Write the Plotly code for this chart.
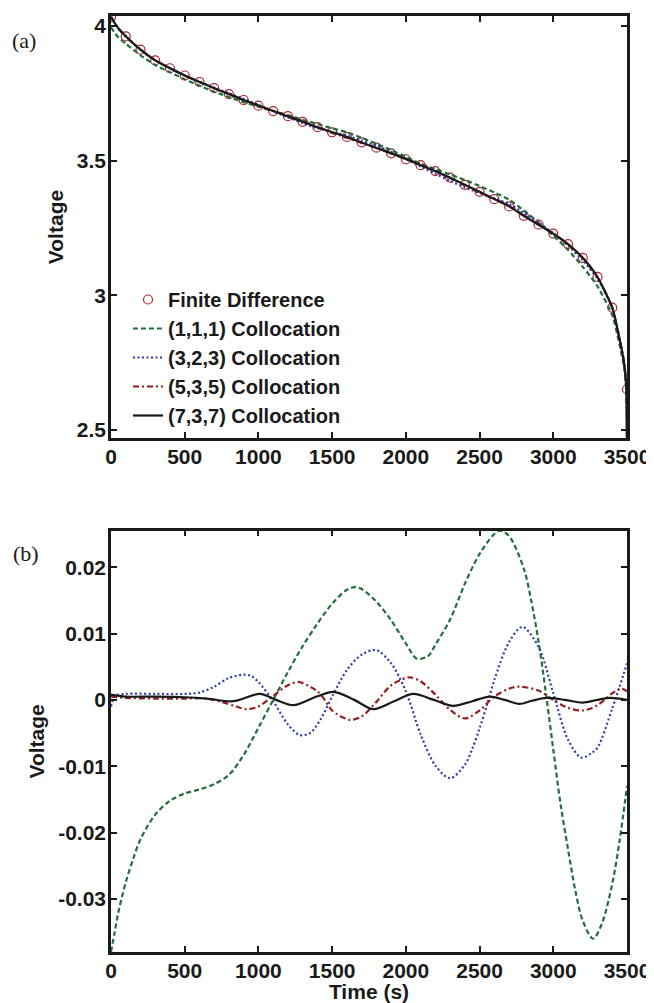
import plotly.graph_objects as go

# ---------------- data: panel (a) ----------------
t_fd = [0, 100, 200, 300, 400, 500, 600, 700, 800, 900, 1000, 1100, 1200, 1300, 1400,
        1500, 1600, 1700, 1800, 1900, 2000, 2100, 2200, 2300, 2400, 2500, 2600, 2700,
        2800, 2900, 3000, 3100, 3200, 3300, 3400, 3500]
v_fd = [4.033, 3.961, 3.912, 3.872, 3.843, 3.816, 3.792, 3.769, 3.747, 3.725, 3.704,
        3.684, 3.665, 3.644, 3.624, 3.605, 3.588, 3.568, 3.548, 3.527, 3.505, 3.483,
        3.461, 3.437, 3.410, 3.384, 3.357, 3.330, 3.295, 3.262, 3.229, 3.190, 3.139,
        3.068, 2.954, 2.651]

t_col = [0, 25, 50, 100, 200, 300, 400, 500, 600, 700, 800, 900, 1000, 1100, 1200, 1300,
         1400, 1500, 1600, 1700, 1800, 1900, 2000, 2100, 2200, 2300, 2400, 2500, 2600,
         2700, 2800, 2900, 3000, 3100, 3200, 3300, 3400, 3450, 3480, 3495, 3500]
v_c111 = [3.995, 3.975, 3.958, 3.934, 3.891, 3.855, 3.828, 3.802, 3.778, 3.756, 3.736,
          3.717, 3.700, 3.684, 3.669, 3.652, 3.636, 3.620, 3.605, 3.585, 3.563, 3.539,
          3.514, 3.489, 3.469, 3.449, 3.428, 3.406, 3.382, 3.355, 3.315, 3.271, 3.222,
          3.168, 3.106, 3.033, 2.926, 2.815, 2.734, 2.647, 2.44]
v_c323 = [4.032, 4.011, 3.991, 3.962, 3.913, 3.873, 3.844, 3.817, 3.793, 3.771, 3.750,
          3.729, 3.707, 3.684, 3.661, 3.639, 3.620, 3.606, 3.593, 3.575, 3.556, 3.533,
          3.506, 3.478, 3.451, 3.425, 3.400, 3.380, 3.360, 3.339, 3.306, 3.270, 3.230,
          3.184, 3.130, 3.061, 2.953, 2.836, 2.752, 2.668, 2.44]
v_c535 = [4.034, 4.011, 3.991, 3.961, 3.912, 3.872, 3.843, 3.816, 3.792, 3.769, 3.747,
          3.724, 3.703, 3.685, 3.667, 3.647, 3.625, 3.603, 3.585, 3.565, 3.548, 3.529,
          3.508, 3.486, 3.462, 3.436, 3.407, 3.382, 3.358, 3.332, 3.297, 3.263, 3.229,
          3.189, 3.137, 3.067, 2.955, 2.837, 2.751, 2.660, 2.44]
v_c737 = [4.034, 4.011, 3.991, 3.962, 3.912, 3.872, 3.843, 3.816, 3.792, 3.769, 3.747,
          3.725, 3.705, 3.684, 3.664, 3.644, 3.624, 3.606, 3.588, 3.567, 3.547, 3.527,
          3.506, 3.483, 3.461, 3.436, 3.410, 3.384, 3.357, 3.330, 3.295, 3.262, 3.229,
          3.190, 3.139, 3.068, 2.954, 2.836, 2.750, 2.660, 2.44]

# ---------------- data: panel (b) (errors) ----------------
t_e111 = [0, 25, 50, 100, 150, 200, 300, 400, 500, 600, 700, 800, 900, 1000, 1100, 1200,
          1300, 1400, 1500, 1600, 1650, 1700, 1800, 1900, 2000, 2075, 2150, 2200, 2300,
          2400, 2500, 2600, 2640, 2700, 2800, 2850, 2900, 2950, 3000, 3050, 3100, 3150,
          3200, 3270, 3330, 3400, 3450, 3500]
e111 = [-0.0380, -0.0350, -0.0320, -0.0275, -0.0240, -0.0210, -0.0173, -0.0152, -0.0141,
        -0.0135, -0.0127, -0.0113, -0.0083, -0.0042, 0.0000, 0.0042, 0.0081, 0.0115,
        0.0145, 0.0166, 0.0170, 0.0167, 0.0148, 0.0120, 0.0085, 0.0062, 0.0066, 0.0083,
        0.0121, 0.0175, 0.0220, 0.0250, 0.0255, 0.0247, 0.0198, 0.0150, 0.0088, 0.0010,
        -0.0075, -0.0158, -0.0225, -0.0288, -0.0333, -0.0360, -0.0337, -0.0277, -0.0212,
        -0.0130]

t_e323 = [0, 30, 100, 300, 500, 600, 700, 800, 900, 950, 1000, 1100, 1200, 1280, 1350,
          1420, 1500, 1600, 1700, 1800, 1900, 2000, 2100, 2200, 2300, 2400, 2450, 2500,
          2550, 2600, 2700, 2790, 2900, 3000, 3100, 3190, 3260, 3300, 3400, 3500]
e323 = [-0.0010, 0.0006, 0.0009, 0.0009, 0.0009, 0.0011, 0.0020, 0.0033, 0.0038, 0.0036,
        0.0027, -0.0002, -0.0037, -0.0053, -0.0050, -0.0030, 0.0005, 0.0045, 0.0068,
        0.0075, 0.0055, 0.0013, -0.0052, -0.0099, -0.0118, -0.0098, -0.0074, -0.0043,
        -0.0008, 0.0030, 0.0087, 0.0110, 0.0080, 0.0010, -0.0060, -0.0087, -0.0080,
        -0.0072, -0.0013, 0.0055]

t_e535 = [0, 100, 300, 500, 650, 750, 850, 920, 1000, 1100, 1200, 1270, 1350, 1400, 1450,
          1500, 1620, 1700, 1800, 1900, 2000, 2030, 2100, 2200, 2300, 2400, 2500, 2600,
          2700, 2770, 2900, 3000, 3100, 3200, 3300, 3400, 3460, 3500]
e535 = [0.0005, 0.0003, 0.0002, 0.0002, 0.0002, -0.0003, -0.0010, -0.0014, -0.0010,
        0.0006, 0.0022, 0.0027, 0.0020, 0.0013, 0.0000, -0.0016, -0.0030, -0.0025,
        -0.0003, 0.0022, 0.0033, 0.0034, 0.0028, 0.0008, -0.0015, -0.0028, -0.0016,
        0.0005, 0.0017, 0.0020, 0.0014, 0.0000, -0.0012, -0.0016, -0.0008, 0.0010,
        0.0017, 0.0013]

t_e737 = [0, 100, 300, 500, 650, 830, 1010, 1120, 1237, 1395, 1510, 1650, 1780, 1920,
          2050, 2190, 2320, 2450, 2570, 2670, 2770, 2860, 2955, 3080, 3200, 3300, 3385, 3500]
e737 = [0.0008, 0.0005, 0.0005, 0.0004, 0.0002, -0.0002, 0.0009, 0.0000, -0.0008, 0.0005,
        0.0012, 0.0000, -0.0014, -0.0002, 0.0009, 0.0000, -0.0009, -0.0002, 0.0005, 0.0000,
        -0.0006, -0.0001, 0.0003, 0.0000, -0.0004, 0.0000, 0.0003, 0.0000]

names = ["(1,1,1) Collocation", "(3,2,3) Collocation", "(5,3,5) Collocation",
         "(7,3,7) Collocation"]
x_ticks = [0, 500, 1000, 1500, 2000, 2500, 3000, 3500]
y_ticks_a = [2.5, 3, 3.5, 4]
y_ticklabels_a = ["2.5", "3", "3.5", "4"]
y_ticks_b = [-0.03, -0.02, -0.01, 0, 0.01, 0.02]
y_ticklabels_b = ["-0.03", "-0.02", "-0.01", "0", "0.01", "0.02"]

# ---------------- styles ----------------
colors = ["#21703a", "#2f3cae", "#931e22", "#1a1a1a"]
dashes = ["5px,3px", "2px,2.5px", "6px,3px,2px,3px", "solid"]
widths = [2.2, 2.2, 2.2, 2.2]
FONT = "Liberation Sans"

fig = go.Figure()

fig.add_trace(go.Scatter(
    x=t_fd, y=v_fd, mode="markers", name="Finite Difference",
    marker=dict(symbol="circle-open", size=9, color="#b3262d", line=dict(width=1.2)),
    xaxis="x", yaxis="y"))

for name, vals, c, d, w in zip(names, [v_c111, v_c323, v_c535, v_c737], colors, dashes, widths):
    fig.add_trace(go.Scatter(
        x=t_col, y=vals, mode="lines", name=name,
        line=dict(color=c, dash=d, width=w, shape="spline", smoothing=0.6),
        xaxis="x", yaxis="y"))

for tt, ee, c, d, w in zip([t_e111, t_e323, t_e535, t_e737], [e111, e323, e535, e737],
                           colors, dashes, widths):
    fig.add_trace(go.Scatter(
        x=tt, y=ee, mode="lines", showlegend=False,
        line=dict(color=c, dash=d, width=w, shape="spline", smoothing=0.9),
        xaxis="x2", yaxis="y2"))

axis_common = dict(
    showline=True, linewidth=2.5, linecolor="#1a1a1a", mirror="ticks",
    ticks="inside", ticklen=6, tickwidth=1.5, tickcolor="#1a1a1a",
    showgrid=False, zeroline=False, automargin=False, ticklabelstandoff=-2,
    tickfont=dict(family=FONT, size=21, color="#1a1a1a", weight="bold"),
)

# The page body adds an 8 px offset; the figure is sized to fit the window.
OFF = 8
W, H = 654 - OFF, 1003 - OFF
T, B = 8, 51
ph = H - T - B


def py(pix):
    # pixel row in the window -> paper y
    return (H - B - (pix - OFF)) / ph


def px(pix):
    return (pix - 111) / 516


title_font = dict(family=FONT, size=21, color="#1a1a1a", weight="bold")

fig.update_layout(
    width=W, height=H,
    margin=dict(l=111 - OFF, r=W - (627 - OFF), t=T, b=B, autoexpand=False),
    paper_bgcolor="white", plot_bgcolor="white",
    font=dict(family=FONT, size=20, color="#1a1a1a"),
    xaxis=dict(domain=[0, 1], range=[0, 3500], tickvals=x_ticks, anchor="y", **axis_common),
    yaxis=dict(domain=[py(438), 1], range=[2.47, 4.037], tickvals=y_ticks_a,
               ticktext=y_ticklabels_a, anchor="x",
               title=dict(text="Voltage", font=title_font, standoff=8),
               **axis_common),
    xaxis2=dict(domain=[0, 1], range=[0, 3500], tickvals=x_ticks, anchor="y2",
                title=dict(text="Time (s)", font=title_font, standoff=0),
                **axis_common),
    yaxis2=dict(domain=[0, py(530.7)], range=[-0.038, 0.0255], tickvals=y_ticks_b,
                ticktext=y_ticklabels_b, anchor="x2",
                title=dict(text="Voltage", font=title_font, standoff=8),
                **axis_common),
    legend=dict(x=px(128), y=py(435), xanchor="left", yanchor="bottom",
                bgcolor="rgba(0,0,0,0)",
                font=dict(family=FONT, size=20, color="#1a1a1a", weight="bold"),
                tracegroupgap=0),
    showlegend=True,
)

fig.add_annotation(text="(a)", xref="paper", yref="paper", x=px(24), y=py(40),
                   xanchor="center", yanchor="middle", showarrow=False,
                   font=dict(family="Liberation Serif", size=22, color="#1a1a1a"))
fig.add_annotation(text="(b)", xref="paper", yref="paper", x=px(26), y=py(553),
                   xanchor="center", yanchor="middle", showarrow=False,
                   font=dict(family="Liberation Serif", size=22, color="#1a1a1a"))

fig.write_html("out.html")
